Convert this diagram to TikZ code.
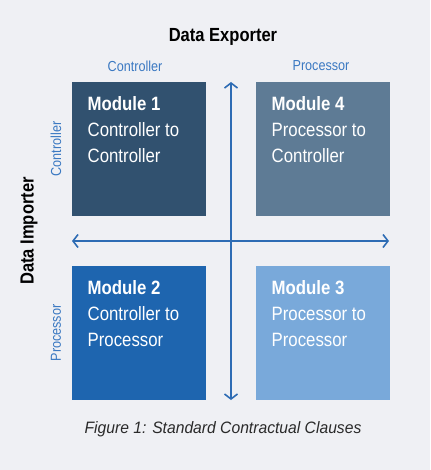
\documentclass[tikz,border=0pt]{standalone}
\usepackage{fontspec}
\setmainfont{Liberation Sans}[FakeStretch=0.87]
\newfontfamily\capfont{Liberation Sans}[FakeStretch=0.95]
\usetikzlibrary{arrows.meta}
\definecolor{bgc}{HTML}{EFF0F4}
\definecolor{boxa}{HTML}{31516F}
\definecolor{boxd}{HTML}{5E7B95}
\definecolor{boxb}{HTML}{1E65AF}
\definecolor{boxc}{HTML}{79A9DA}
\definecolor{lblue}{HTML}{3B79C2}
\definecolor{arrc}{HTML}{2E6CB4}
\definecolor{capc}{HTML}{2A2A2A}
\tikzset{
  modbox/.style={minimum width=134pt,minimum height=134pt,inner sep=0pt,anchor=north west,draw=none},
  modtext/.style={anchor=north west,inner sep=0pt,align=left,text=white,font=\fontsize{19.3}{26}\selectfont},
  axislbl/.style={text=lblue,font=\fontsize{14.5}{16}\selectfont,inner sep=0pt},
  bigtitle/.style={font=\bfseries\fontsize{19}{22}\selectfont,inner sep=0pt},
  axisarrow/.style={draw=arrc,line width=1.8pt,{Straight Barb[length=5pt,width=13pt,line width=1.6pt]}-{Straight Barb[length=5pt,width=13pt,line width=1.6pt]}}
}
\begin{document}
\begin{tikzpicture}[x=1pt,y=-1pt]
\fill[bgc] (0,0) rectangle (430,470);
\useasboundingbox (0,0) rectangle (430,470);
\node[modbox,fill=boxa] (m1) at (72,82) {};
\node[modbox,fill=boxd] (m4) at (256,82) {};
\node[modbox,fill=boxb] (m2) at (72,266) {};
\node[modbox,fill=boxc] (m3) at (256,266) {};
\node[modtext] (t1) at (87.5,96) {\textbf{Module 1}\\Controller to\\Controller};
\node[modtext] (t4) at (271.5,96) {\textbf{Module 4}\\Processor to\\Controller};
\node[modtext] (t2) at (87.5,280) {\textbf{Module 2}\\Controller to\\Processor};
\node[modtext] (t3) at (271.5,280) {\textbf{Module 3}\\Processor to\\Processor};
\coordinate (vt) at (231,82);
\coordinate (vb) at (231,400);
\coordinate (hl) at (72,241);
\coordinate (hr) at (389,241);
\draw[axisarrow] (vb) -- (vt);
\draw[axisarrow] (hl) -- (hr);
\node[bigtitle] (exp) at (223,37) {Data Exporter};
\node[bigtitle,rotate=90] (imp) at (29,231) {Data Importer};
\node[axislbl] (ec) at (135,66) {Controller};
\node[axislbl] (ep) at (321,66) {Processor};
\node[axislbl,rotate=90] (ic) at (56,149) {Controller};
\node[axislbl,rotate=90] (ip) at (56,333) {Processor};
\node[inner sep=0pt,text=capc,font=\capfont\itshape\fontsize{16.5}{18}\selectfont] (cap) at (223,429) {Figure 1: Standard Contractual Clauses};
\end{tikzpicture}
\end{document}
